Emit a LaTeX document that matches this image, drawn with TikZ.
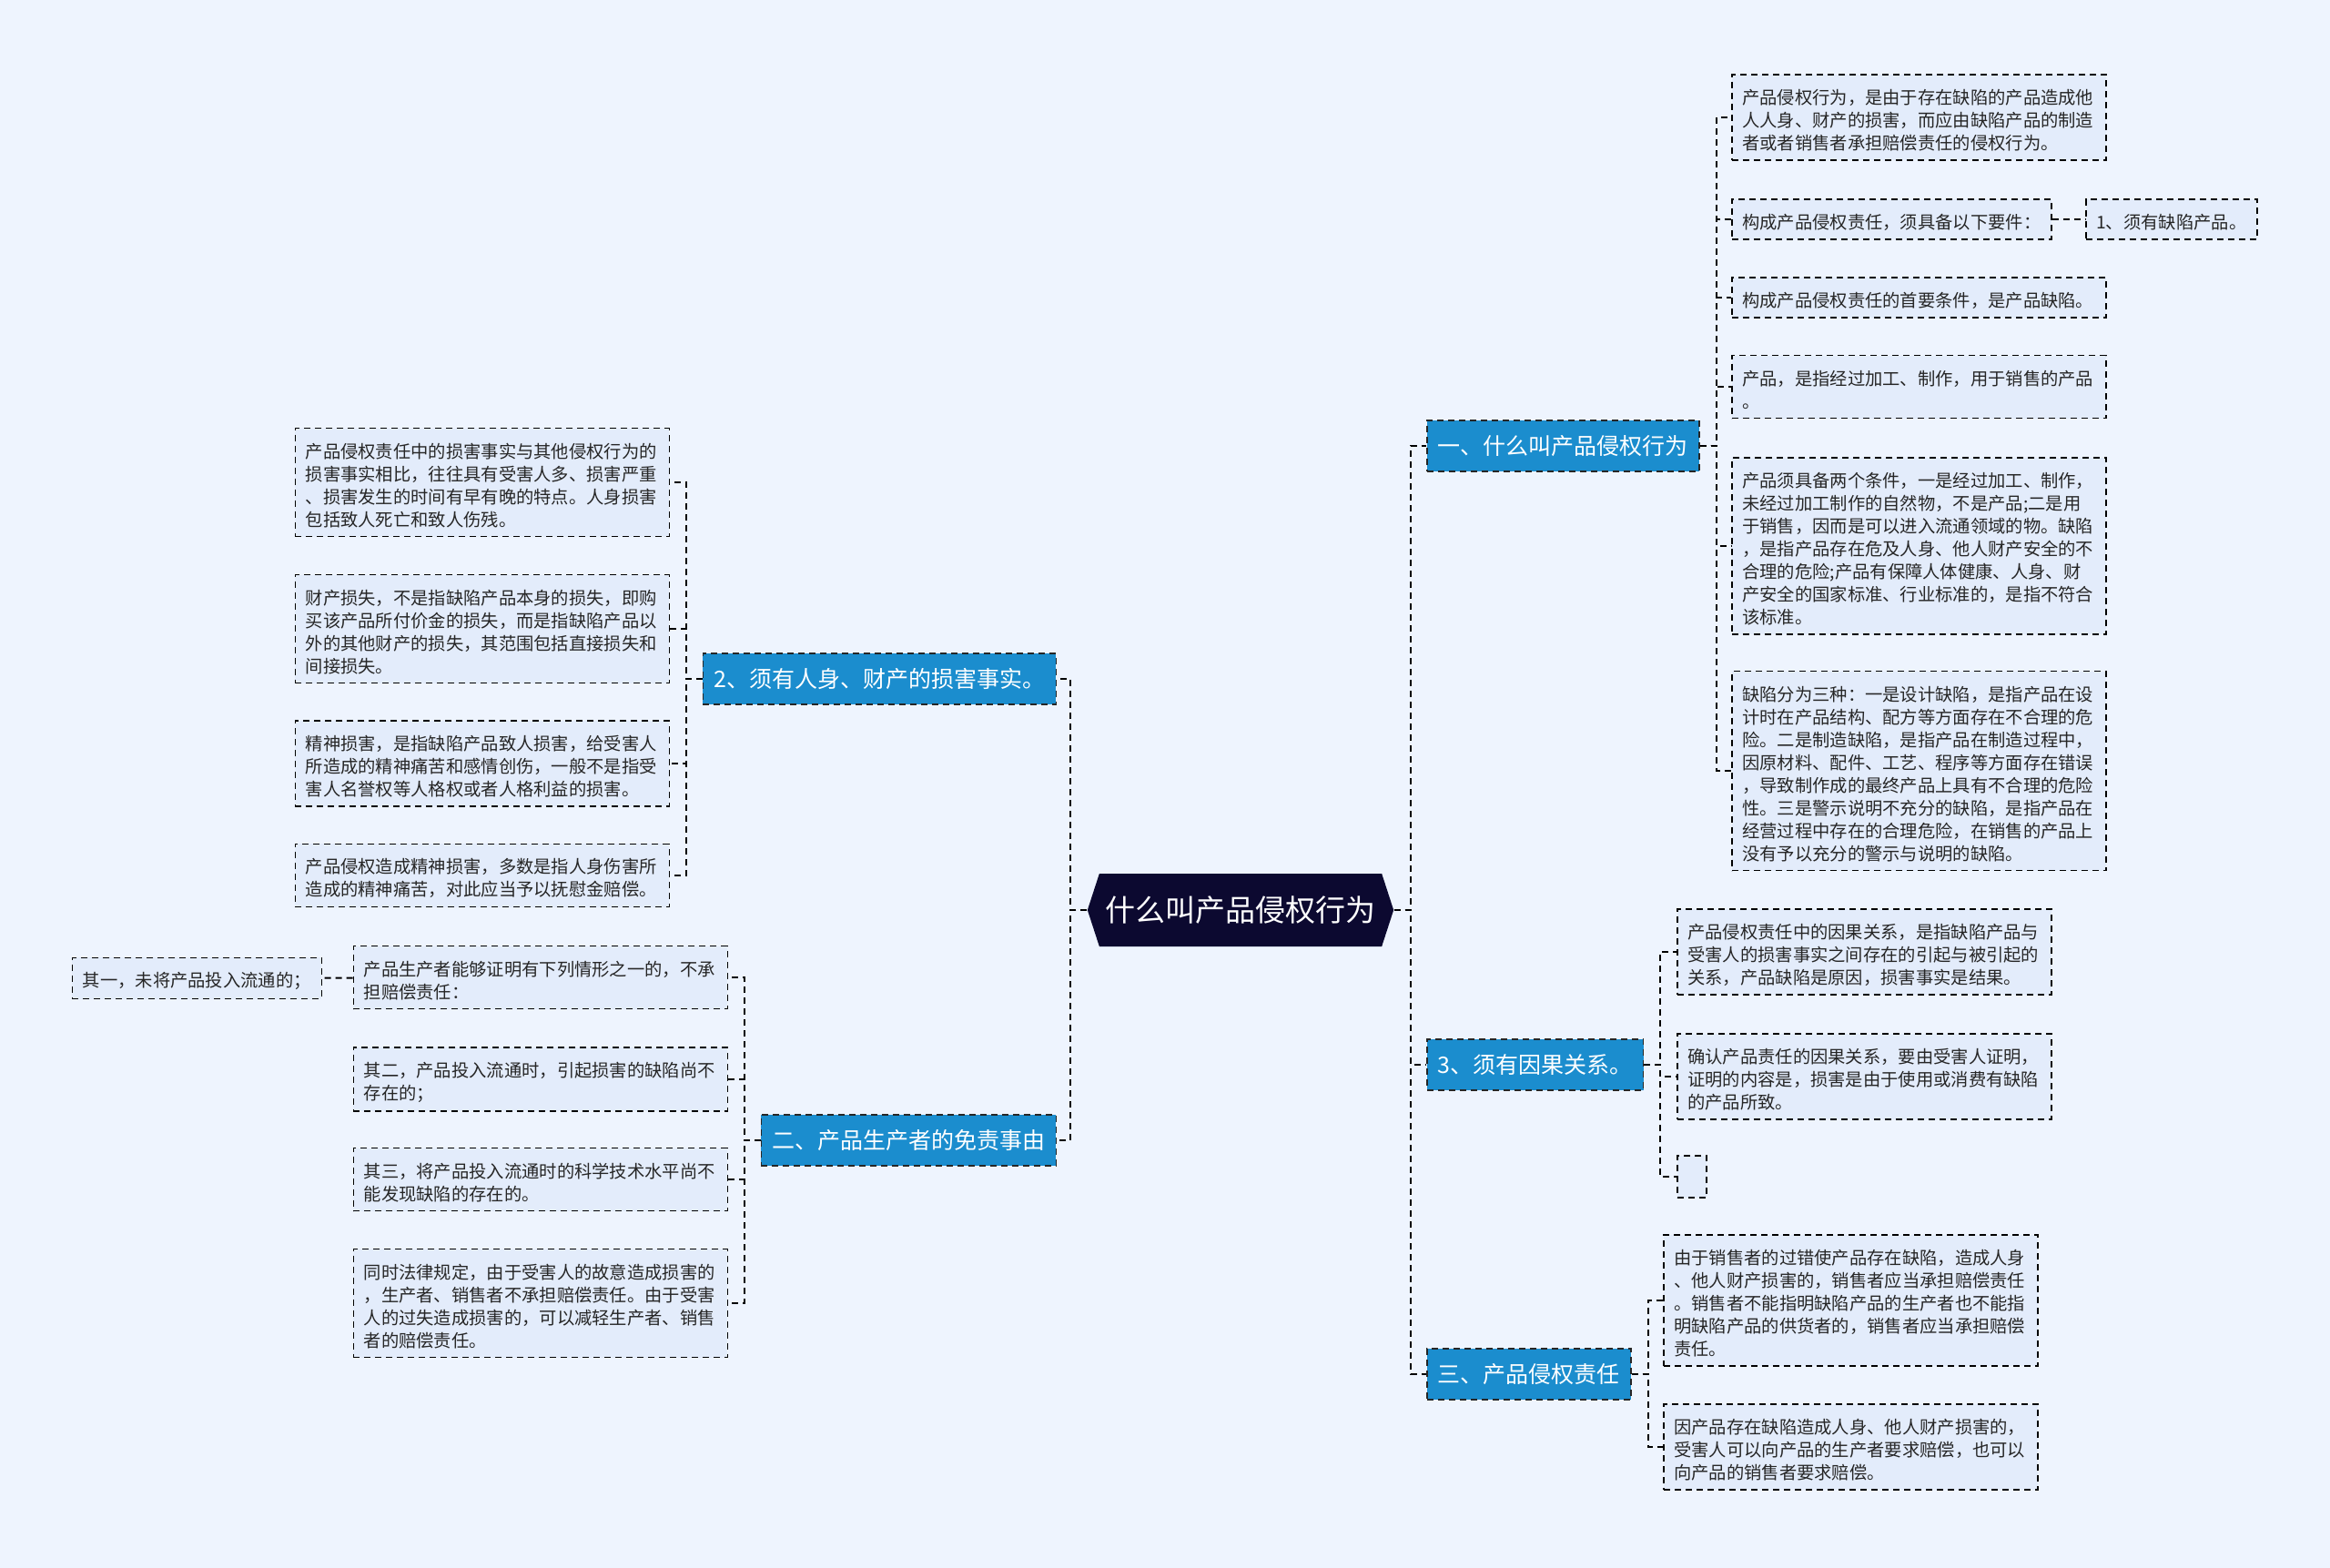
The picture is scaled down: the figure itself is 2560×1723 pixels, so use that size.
\documentclass[tikz,border=0pt]{standalone}
\usepackage{fontspec}
\setmainfont{Noto Sans CJK SC}
\usetikzlibrary{shapes.symbols}
\definecolor{bgcol}{HTML}{EEF4FE}
\definecolor{leafcol}{HTML}{E3ECFB}
\definecolor{branchcol}{HTML}{1B8DCE}
\definecolor{rootcol}{HTML}{0C0930}
\newcommand{\topstrut}{\rule{0pt}{11.5pt}}
\newcommand{\botstrut}{\rule[-1pt]{0pt}{1pt}}
\tikzset{
  leaf/.style={draw=black, dash pattern=on 3.5pt off 2.5pt, line width=0.75pt, fill=leafcol,
    font=\fontsize{9.65}{12.5}\selectfont, text=black!85, inner xsep=5.75pt, inner ysep=4.75pt,
    align=left, execute at begin node=\topstrut, execute at end node=\botstrut},
  wide/.style={text width=194pt},
  branch/.style={draw=black!85, dash pattern=on 3.5pt off 2.5pt, line width=0.75pt, fill=branchcol,
    text=white, font=\fontsize{12.5}{15}\selectfont, inner xsep=6pt, minimum height=28pt},
  root/.style={signal, signal to=west and east, signal pointer angle=144, fill=rootcol,
    text=white, font=\fontsize{16.5}{20}\selectfont, minimum width=166.5pt, minimum height=40pt},
  link/.style={draw=black, line width=1pt, dash pattern=on 3.5pt off 2.5pt}
}
\begin{document}
\begin{tikzpicture}[x=0.5pt, y=-0.5pt]
\fill[bgcol] (0,0) rectangle (2560,1723);
\useasboundingbox (0,0) rectangle (2560,1723);

\node[root] (root) at (1363,1000) {什么叫产品侵权行为};

% right side
\node[branch, anchor=west] (def) at (1567,490) {一、什么叫产品侵权行为};
\node[branch, anchor=west] (causal) at (1567,1170) {3、须有因果关系。};
\node[branch, anchor=west] (liab) at (1567,1510) {三、产品侵权责任};

\node[leaf, wide, anchor=west] (def1) at (1902,129) {产品侵权行为，是由于存在缺陷的产品造成他\\人人身、财产的损害，而应由缺陷产品的制造\\者或者销售者承担赔偿责任的侵权行为。};
\node[leaf, anchor=west] (def2) at (1902,241) {构成产品侵权责任，须具备以下要件：};
\node[leaf, anchor=west] (def2x) at (2291,241) {1、须有缺陷产品。};
\node[leaf, wide, anchor=west] (def3) at (1902,327) {构成产品侵权责任的首要条件，是产品缺陷。};
\node[leaf, wide, anchor=west] (def4) at (1902,425) {产品，是指经过加工、制作，用于销售的产品\\。};
\node[leaf, wide, anchor=west] (def5) at (1902,600) {产品须具备两个条件，一是经过加工、制作，\\未经过加工制作的自然物，不是产品;二是用\\于销售，因而是可以进入流通领域的物。缺陷\\，是指产品存在危及人身、他人财产安全的不\\合理的危险;产品有保障人体健康、人身、财\\产安全的国家标准、行业标准的，是指不符合\\该标准。};
\node[leaf, wide, anchor=west] (def6) at (1902,847) {缺陷分为三种：一是设计缺陷，是指产品在设\\计时在产品结构、配方等方面存在不合理的危\\险。二是制造缺陷，是指产品在制造过程中，\\因原材料、配件、工艺、程序等方面存在错误\\，导致制作成的最终产品上具有不合理的危险\\性。三是警示说明不充分的缺陷，是指产品在\\经营过程中存在的合理危险，在销售的产品上\\没有予以充分的警示与说明的缺陷。};

\node[leaf, wide, anchor=west] (causal1) at (1842,1046) {产品侵权责任中的因果关系，是指缺陷产品与\\受害人的损害事实之间存在的引起与被引起的\\关系，产品缺陷是原因，损害事实是结果。};
\node[leaf, wide, anchor=west] (causal2) at (1842,1183) {确认产品责任的因果关系，要由受害人证明，\\证明的内容是，损害是由于使用或消费有缺陷\\的产品所致。};
\node[leaf, anchor=west, minimum width=16pt, minimum height=23pt, execute at begin node={}, execute at end node={}] (causal3) at (1842,1293) {};

\node[leaf, wide, anchor=west] (liab1) at (1827,1429) {由于销售者的过错使产品存在缺陷，造成人身\\、他人财产损害的，销售者应当承担赔偿责任\\。销售者不能指明缺陷产品的生产者也不能指\\明缺陷产品的供货者的，销售者应当承担赔偿\\责任。};
\node[leaf, wide, anchor=west] (liab2) at (1827,1590) {因产品存在缺陷造成人身、他人财产损害的，\\受害人可以向产品的生产者要求赔偿，也可以\\向产品的销售者要求赔偿。};

% left side
\node[branch, anchor=east] (harm) at (1161,746) {2、须有人身、财产的损害事实。};
\node[branch, anchor=east] (exempt) at (1161,1253) {二、产品生产者的免责事由};

\node[leaf, wide, anchor=east] (harm1) at (736,530) {产品侵权责任中的损害事实与其他侵权行为的\\损害事实相比，往往具有受害人多、损害严重\\、损害发生的时间有早有晚的特点。人身损害\\包括致人死亡和致人伤残。};
\node[leaf, wide, anchor=east] (harm2) at (736,691) {财产损失，不是指缺陷产品本身的损失，即购\\买该产品所付价金的损失，而是指缺陷产品以\\外的其他财产的损失，其范围包括直接损失和\\间接损失。};
\node[leaf, wide, anchor=east] (harm3) at (736,839) {精神损害，是指缺陷产品致人损害，给受害人\\所造成的精神痛苦和感情创伤，一般不是指受\\害人名誉权等人格权或者人格利益的损害。};
\node[leaf, wide, anchor=east] (harm4) at (736,962) {产品侵权造成精神损害，多数是指人身伤害所\\造成的精神痛苦，对此应当予以抚慰金赔偿。};

\node[leaf, wide, anchor=east] (exempt1) at (800,1074) {产品生产者能够证明有下列情形之一的，不承\\担赔偿责任：};
\node[leaf, anchor=east] (exempt1x) at (354,1075) {其一，未将产品投入流通的；};
\node[leaf, wide, anchor=east] (exempt2) at (800,1186) {其二，产品投入流通时，引起损害的缺陷尚不\\存在的；};
\node[leaf, wide, anchor=east] (exempt3) at (800,1296) {其三，将产品投入流通时的科学技术水平尚不\\能发现缺陷的存在的。};
\node[leaf, wide, anchor=east] (exempt4) at (800,1432) {同时法律规定，由于受害人的故意造成损害的\\，生产者、销售者不承担赔偿责任。由于受害\\人的过失造成损害的，可以减轻生产者、销售\\者的赔偿责任。};

% connectors
\foreach \n in {def,causal,liab}
  \draw[link] (root.east) -- ++(18,0) |- (\n.west);
\foreach \n in {harm,exempt}
  \draw[link] (root.west) -- ++(-18,0) |- (\n.east);
\foreach \n in {def1,def2,def3,def4,def5,def6}
  \draw[link] (def.east) -- ++(18,0) |- (\n.west);
\foreach \n in {causal1,causal2,causal3}
  \draw[link] (causal.east) -- ++(18,0) |- (\n.west);
\foreach \n in {liab1,liab2}
  \draw[link] (liab.east) -- ++(18,0) |- (\n.west);
\foreach \n in {harm1,harm2,harm3,harm4}
  \draw[link] (harm.west) -- ++(-18,0) |- (\n.east);
\foreach \n in {exempt1,exempt2,exempt3,exempt4}
  \draw[link] (exempt.west) -- ++(-18,0) |- (\n.east);
\draw[link] (def2) -- (def2x);
\draw[link] (exempt1) -- (exempt1x);
\end{tikzpicture}
\end{document}
